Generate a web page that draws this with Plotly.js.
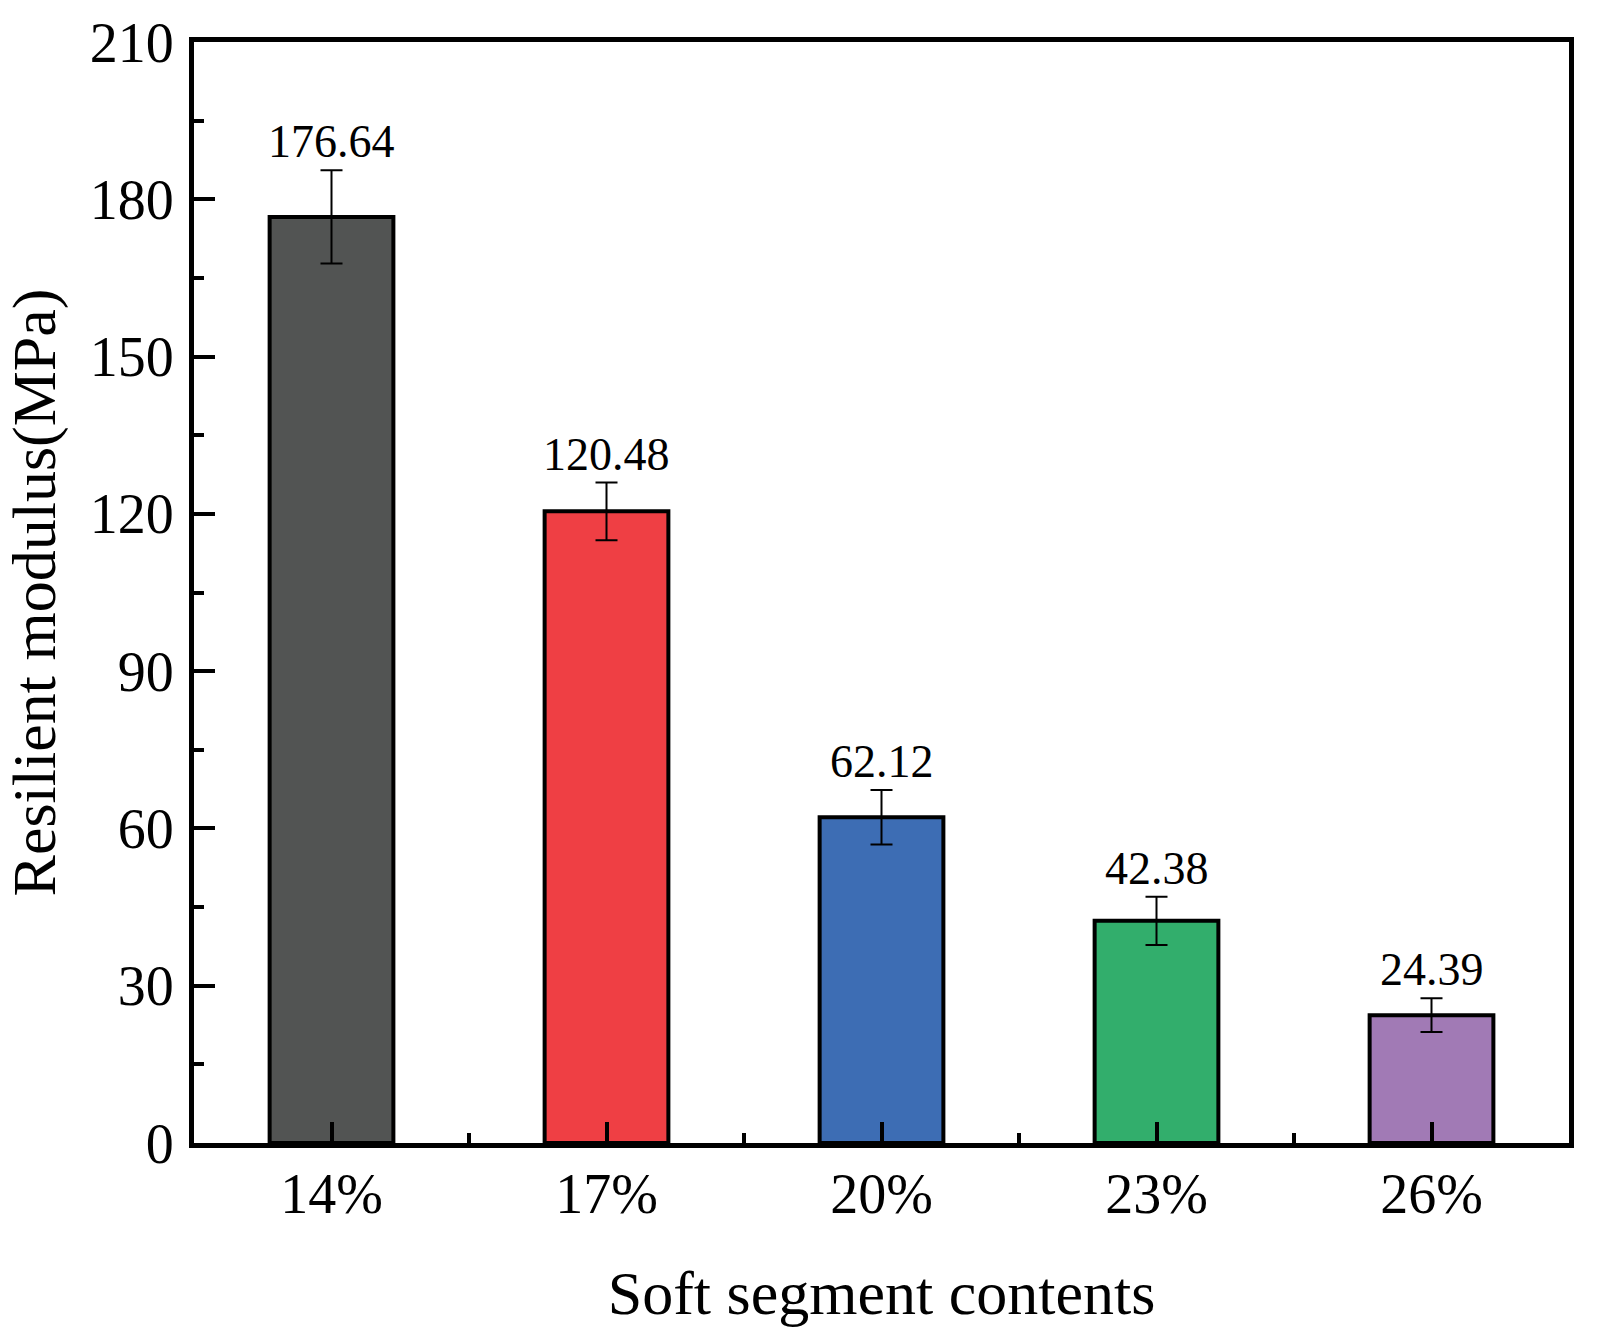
<!DOCTYPE html>
<html>
<head>
<meta charset="utf-8">
<script src="https://cdn.plot.ly/plotly-3.0.1.min.js"></script>
<style>
  html, body { margin: 0; padding: 0; background: #ffffff; }
  #chart { width: 1601px; height: 1342px; }
</style>
</head>
<body>
<div id="chart"></div>
<script>
// Resilient modulus for each soft segment content
const categories = ['14%', '17%', '20%', '23%', '26%'];
const modulus = [176.64, 120.48, 62.12, 42.38, 24.39];
const errors = [8.9, 5.5, 5.2, 4.6, 3.2];
const barColors = ['#525453', '#EF3F44', '#3D6DB4', '#32AE6C', '#A17AB5'];

const yTickStep = 30;
const yMax = 210;

const FONT = 'Liberation Serif, Times New Roman, Times, serif';
const positions = categories.map((_, i) => i);

const trace = {
  type: 'bar',
  x: positions,
  y: modulus,
  width: 0.45,
  marker: {
    color: barColors,
    line: { color: '#000000', width: 4 }
  },
  error_y: {
    type: 'data',
    array: errors,
    visible: true,
    color: '#000000',
    thickness: 2,
    width: 11
  },
  hoverinfo: 'skip'
};

const annotations = modulus.map((v, i) => ({
  x: positions[i],
  y: v + errors[i],
  xref: 'x',
  yref: 'y',
  text: v.toFixed(2),
  showarrow: false,
  xanchor: 'center',
  yanchor: 'bottom',
  yshift: 1,
  font: { family: FONT, size: 46, color: '#000000' }
}));

const layout = {
  width: 1601,
  height: 1342,
  margin: { l: 194, r: 32, t: 42, b: 199 },
  paper_bgcolor: '#ffffff',
  plot_bgcolor: '#ffffff',
  showlegend: false,
  bargap: 0,
  font: { family: FONT, color: '#000000' },
  xaxis: {
    range: [-0.5, categories.length - 0.5],
    tickmode: 'array',
    tickvals: positions,
    ticktext: categories,
    ticks: 'inside',
    ticklen: 21,
    tickwidth: 4,
    tickcolor: '#000000',
    minor: { tickmode: 'linear', tick0: 0.5, dtick: 1, ticks: 'inside', ticklen: 10, tickwidth: 4, tickcolor: '#000000' },
    showline: true,
    linecolor: '#000000',
    linewidth: 5,
    mirror: true,
    showgrid: false,
    zeroline: false,
    tickfont: { family: FONT, size: 56, color: '#000000' },
    ticklabelstandoff: -2,
    title: { text: 'Soft segment contents', font: { family: FONT, size: 62, color: '#000000' }, standoff: 48 },
    fixedrange: true
  },
  yaxis: {
    range: [0, yMax],
    tick0: 0,
    dtick: yTickStep,
    ticks: 'inside',
    ticklen: 21,
    tickwidth: 4,
    tickcolor: '#000000',
    minor: { dtick: yTickStep / 2, ticks: 'inside', ticklen: 10, tickwidth: 4, tickcolor: '#000000' },
    showline: true,
    linecolor: '#000000',
    linewidth: 5,
    mirror: true,
    showgrid: false,
    zeroline: false,
    tickfont: { family: FONT, size: 56, color: '#000000' },
    ticklabelstandoff: 4,
    title: { text: 'Resilient modulus(MPa)', font: { family: FONT, size: 62, color: '#000000' }, standoff: 20 },
    fixedrange: true
  },
  annotations: annotations
};

Plotly.newPlot('chart', [trace], layout, { staticPlot: true, displayModeBar: false });
</script>
</body>
</html>
